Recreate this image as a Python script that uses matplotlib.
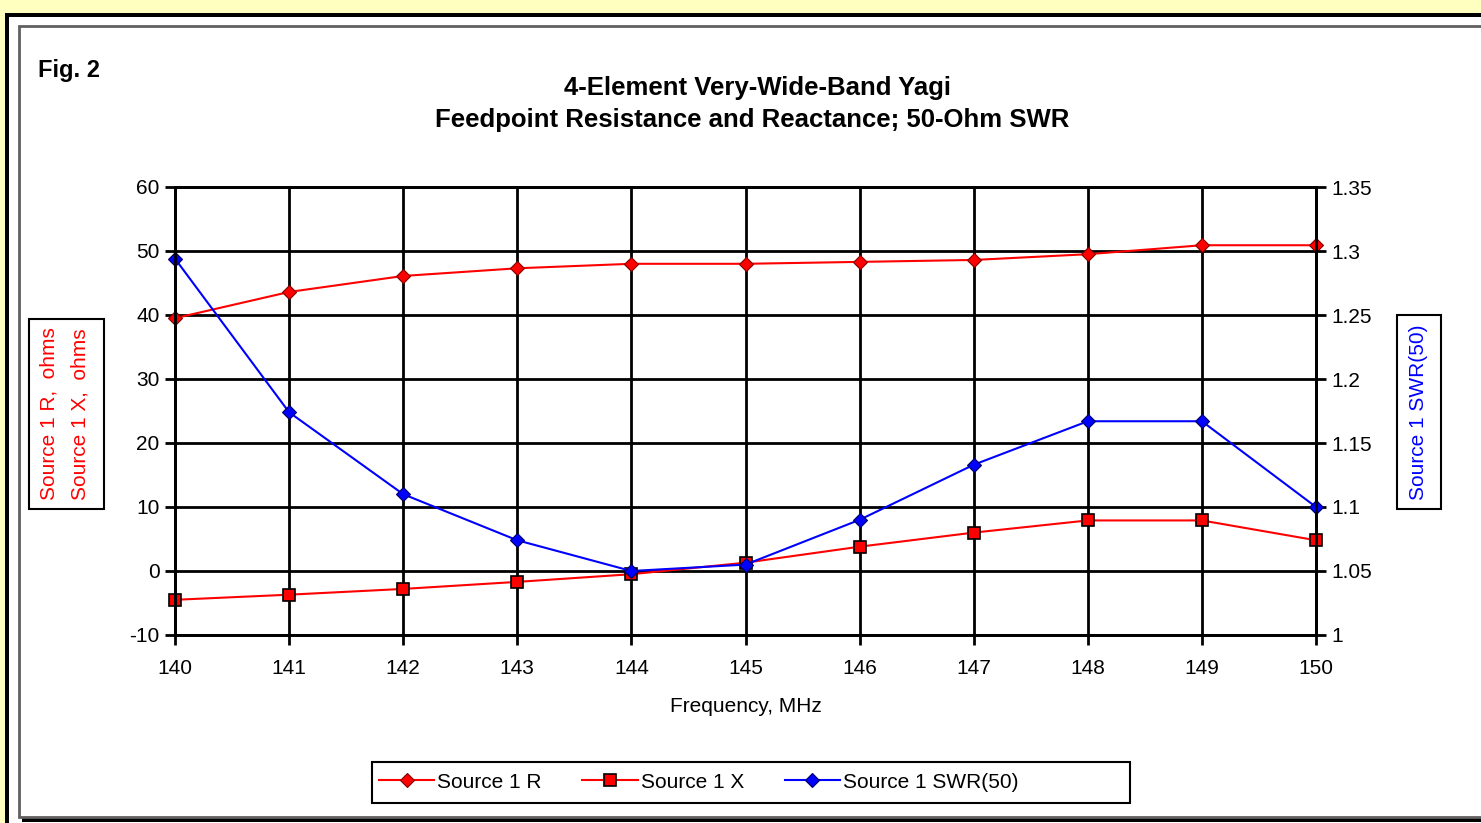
import numpy as np
import matplotlib
matplotlib.use("Agg")
import matplotlib.pyplot as plt
from matplotlib.patches import Rectangle
from matplotlib.ticker import FuncFormatter

plt.rcParams['font.family'] = ['Liberation Sans', 'DejaVu Sans']
plt.rcParams['axes.unicode_minus'] = False

# data
freq = [140, 141, 142, 143, 144, 145, 146, 147, 148, 149, 150]
r_ohms = [39.5, 43.6, 46.1, 47.3, 48.0, 48.0, 48.3, 48.6, 49.5, 50.9, 50.9]
x_ohms = [-4.5, -3.7, -2.8, -1.7, -0.5, 1.3, 3.8, 6.0, 7.9, 7.9, 4.8]
swr = [1.294, 1.174, 1.110, 1.074, 1.050, 1.055, 1.090, 1.133, 1.167, 1.167, 1.100]

left_ticks = [-10, 0, 10, 20, 30, 40, 50, 60]
right_ticks = [1.0, 1.05, 1.1, 1.15, 1.2, 1.25, 1.3, 1.35]

W, H = 1481, 823
fig = plt.figure(figsize=(W / 100, H / 100), dpi=100, facecolor='#FFFFC0')


def box(x0, y0, x1, y1, **kw):
    # pixel box (top-left origin) -> figure fraction rectangle
    r = Rectangle((x0 / W, 1 - y1 / H), (x1 - x0) / W, (y1 - y0) / H,
                  transform=fig.transFigure, zorder=-10, **kw)
    fig.add_artist(r)
    return r


# page frame and chart area with shadow
box(5, 13, W + 10, H + 10, facecolor='black', edgecolor='none')
box(9, 17, W + 10, H + 10, facecolor='white', edgecolor='none')
box(22, 29, W + 10, 822, facecolor='black', edgecolor='none')
box(19, 26, W + 10, 817, facecolor='white', edgecolor='#606060', linewidth=2)

ax = fig.add_axes([175 / W, 1 - 635 / H, (1316 - 175) / W, (635 - 187) / H])
ax2 = ax.twinx()

l1, = ax.plot(freq, r_ohms, color='#FF0000', lw=1.5, marker='D', ms=7,
              mfc='#FF0000', mec='#800000', mew=0.8, label='Source 1 R',
              clip_on=False)
l2, = ax.plot(freq, x_ohms, color='#FF0000', lw=1.5, marker='s', ms=9,
              mfc='#FF0000', mec='black', mew=1.2, label='Source 1 X',
              clip_on=False)
l3, = ax2.plot(freq, swr, color='#0000FF', lw=1.5, marker='D', ms=7,
               mfc='#0000FF', mec='#000060', mew=0.8, label='Source 1 SWR(50)',
               clip_on=False)

ax.set_xlim(140, 150)
ax.set_ylim(-10, 60)
ax2.set_ylim(1.0, 1.35)
ax.set_xticks(freq)
ax.set_yticks(left_ticks)
ax2.set_yticks(right_ticks)
ax2.yaxis.set_major_formatter(FuncFormatter(lambda v, p: f'{v:g}'))

ax.grid(True, color='black', linewidth=2)
for a in (ax, ax2):
    for s in a.spines.values():
        s.set_linewidth(2)
        s.set_color('black')
ax.tick_params(axis='both', direction='out', length=7, width=2,
               labelsize=15, colors='black')
ax.tick_params(axis='x', pad=10)
ax.tick_params(axis='y', pad=4)
ax2.tick_params(axis='y', direction='out', length=7, width=2,
                labelsize=15, pad=4)

ax.set_xlabel('Frequency, MHz', fontsize=15, labelpad=14)

# titles
fig.text(38 / W, 1 - 70 / H, 'Fig. 2', fontsize=17, fontweight='bold',
         va='center', ha='left')
fig.text(757 / W, 1 - 88 / H, '4-Element Very-Wide-Band Yagi', fontsize=18.5,
         fontweight='bold', ha='center', va='center')
fig.text(752 / W, 1 - 120 / H, 'Feedpoint Resistance and Reactance; 50-Ohm SWR',
         fontsize=18.5, fontweight='bold', ha='center', va='center')

# axis title boxes
box(29, 319, 104, 509, facecolor='none', edgecolor='black', linewidth=1.5)
fig.text(49 / W, 1 - 414 / H, 'Source 1 R,  ohms', rotation=90, color='#FF0000',
         fontsize=15, ha='center', va='center')
fig.text(80 / W, 1 - 414 / H, 'Source 1 X,  ohms', rotation=90, color='#FF0000',
         fontsize=15, ha='center', va='center')
box(1397, 315, 1441, 509, facecolor='none', edgecolor='black', linewidth=1.5)
fig.text(1419 / W, 1 - 412 / H, 'Source 1 SWR(50)', rotation=90, color='#0000FF',
         fontsize=15, ha='center', va='center')

# legend (box drawn separately, Excel style with extra room on the right)
box(372, 762, 1130, 803, facecolor='white', edgecolor='black', linewidth=1.5)
fig.legend(handles=[l1, l2, l3], loc='center left', ncol=3,
           bbox_to_anchor=(379 / W, 1 - 782 / H), fontsize=15,
           frameon=False, borderaxespad=0, borderpad=0,
           handlelength=2.65, handletextpad=0.15, columnspacing=1.95)

fig.savefig('out.png', dpi=100, facecolor=fig.get_facecolor())
